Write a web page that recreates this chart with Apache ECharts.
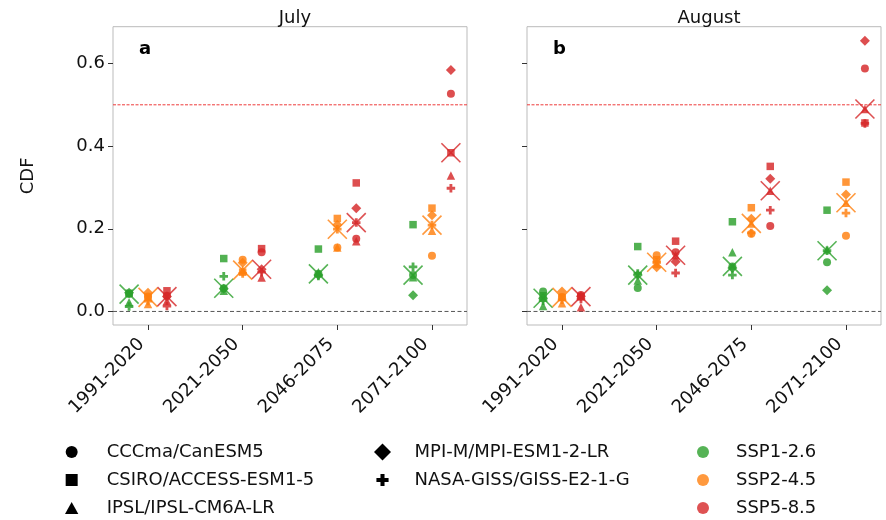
<!DOCTYPE html>
<html>
<head>
<meta charset="utf-8">
<script src="https://cdn.jsdelivr.net/npm/echarts@6/dist/echarts.min.js"></script>
<style>html,body{margin:0;padding:0;background:#fff}#c{width:886px;height:520px}</style>
</head>
<body>
<div id="c"></div>
<script>
// ---- data ----
const periods = ['1991-2020', '2021-2050', '2046-2075', '2071-2100'];
const months = ['July', 'August'];
const panelLetters = ['a', 'b'];
const models = ['CCCma/CanESM5', 'CSIRO/ACCESS-ESM1-5', 'IPSL/IPSL-CM6A-LR', 'MPI-M/MPI-ESM1-2-LR', 'NASA-GISS/GISS-E2-1-G'];
const ssps = ['SSP1-2.6', 'SSP2-4.5', 'SSP5-8.5'];
const yTicks = [0, 0.2, 0.4, 0.6];
const refLevels = [0, 0.5];

// rows: models (CanESM5, ACCESS, IPSL, MPI, GISS); columns: periods
const julySSP126 = [
  [0.042, 0.056, 0.091, 0.088],
  [0.044, 0.128, 0.151, 0.210],
  [0.022, 0.050, 0.095, 0.083],
  [0.045, 0.055, 0.088, 0.039],
  [0.012, 0.085, 0.086, 0.108]
];
const julySSP245 = [
  [0.036, 0.125, 0.155, 0.135],
  [0.034, 0.095, 0.225, 0.250],
  [0.018, 0.100, 0.155, 0.195],
  [0.045, 0.118, 0.210, 0.233],
  [0.025, 0.092, 0.199, 0.209]
];
const julySSP585 = [
  [0.038, 0.143, 0.176, 0.527],
  [0.050, 0.152, 0.311, 0.384],
  [0.025, 0.082, 0.170, 0.329],
  [0.036, 0.102, 0.250, 0.584],
  [0.013, 0.095, 0.215, 0.298]
];
const augustSSP126 = [
  [0.048, 0.057, 0.109, 0.119],
  [0.038, 0.157, 0.217, 0.245],
  [0.013, 0.075, 0.143, 0.150],
  [0.032, 0.088, 0.105, 0.051],
  [0.026, 0.092, 0.088, 0.147]
];
const augustSSP245 = [
  [0.035, 0.136, 0.188, 0.183],
  [0.034, 0.125, 0.251, 0.313],
  [0.020, 0.115, 0.213, 0.263],
  [0.048, 0.107, 0.224, 0.283],
  [0.028, 0.119, 0.190, 0.238]
];
const augustSSP585 = [
  [0.040, 0.143, 0.207, 0.588],
  [0.036, 0.170, 0.351, 0.456],
  [0.010, 0.136, 0.292, 0.490],
  [0.037, 0.120, 0.321, 0.655],
  [0.030, 0.093, 0.245, 0.455]
];
const panelData = [
  [julySSP126, julySSP245, julySSP585],
  [augustSSP126, augustSSP245, augustSSP585]
];

// ---- styles ----
const X_MIN = -0.37, X_MAX = 3.37, Y_MIN = -0.0328, Y_MAX = 0.689;
const sspColors = ['#2ca02c', '#ff7f0e', '#d62728'];
const sspOffsets = [-0.2, 0, 0.2];
const refStyles = [
  { color: '#555555', type: [4, 2.5], width: 1 },
  { color: '#ee3b3b', type: [3, 1.5], width: 1 }
];
const plusPath = 'path://M-1,-3L1,-3L1,-1L3,-1L3,1L1,1L1,3L-1,3L-1,1L-3,1L-3,-1L-1,-1Z';
const plusLegendPath = 'path://M-4.2,-4.2L-4.19,-4.2ZM4.2,4.2L4.19,4.2ZM-1,-3L1,-3L1,-1L3,-1L3,1L1,1L1,3L-1,3L-1,1L-3,1L-3,-1L-1,-1Z';
const xPath = 'path://M0,0L10,10M10,0L0,10';
const modelSymbols = ['circle', 'rect', 'triangle', 'diamond', plusPath];
const legendIcons = ['circle', 'path://M0,0L1,0L1,1L0,1Z', 'path://M0.5,0L1,0.9L0,0.9Z',
  'path://M0.5,0L1,0.5L0.5,1L0,0.5Z', plusLegendPath];
const modelSizes = [8, 7.5, 8.5, 10, 8.5];
const FONT = 'DejaVu Sans';

function median(a) {
  const s = a.slice().sort((x, y) => x - y);
  return s[Math.floor(s.length / 2)];
}

const grids = [
  { left: 113, top: 26.7, width: 354, height: 298.3 },
  { left: 527, top: 26.7, width: 354, height: 298.3 }
];

const series = [];
panelData.forEach((panel, p) => {
  // reference lines (horizontal, spanning the full axis range)
  refLevels.forEach((lv, k) => {
    series.push({
      type: 'line', name: 'ref', xAxisIndex: p, yAxisIndex: p, silent: true,
      symbol: 'none', z: 1,
      lineStyle: refStyles[k],
      data: [[X_MIN, lv], [X_MAX, lv]]
    });
  });
  panel.forEach((sspArr, s) => {
    sspArr.forEach((row, m) => {
      series.push({
        type: 'scatter', name: models[m], xAxisIndex: p, yAxisIndex: p,
        symbol: modelSymbols[m], symbolSize: modelSizes[m],
        itemStyle: { color: sspColors[s], opacity: 0.82 },
        z: 2, silent: true,
        data: row.map((v, i) => [i + sspOffsets[s], v])
      });
    });
    // median marker
    series.push({
      type: 'scatter', name: 'median', xAxisIndex: p, yAxisIndex: p,
      symbol: xPath, symbolSize: 19,
      itemStyle: { color: 'rgba(0,0,0,0)', borderColor: sspColors[s], borderWidth: 1.6 },
      z: 3, silent: true,
      data: periods.map((_, i) => [i + sspOffsets[s], median(sspArr.map(r => r[i]))])
    });
  });
});
// legend-only series for scenarios
ssps.forEach((name, s) => {
  series.push({ type: 'scatter', name: name, data: [], xAxisIndex: 0, yAxisIndex: 0,
    symbol: 'circle', itemStyle: { color: sspColors[s] } });
});

const xAxes = grids.map((g, i) => ({
  type: 'value', gridIndex: i, min: X_MIN, max: X_MAX, position: 'bottom',
  axisLine: { show: false, onZero: false },
  splitLine: { show: false },
  axisTick: { show: true, length: 5, customValues: [0, 1, 2, 3], lineStyle: { color: '#333' } },
  axisLabel: {
    show: true, customValues: [0, 1, 2, 3], rotate: 45, margin: 10,
    formatter: v => periods[Math.round(v)],
    fontFamily: FONT, fontSize: 18, color: '#111', padding: [0, 9, 0, 0]
  }
}));
const yAxes = grids.map((g, i) => ({
  type: 'value', gridIndex: i, min: Y_MIN, max: Y_MAX, position: 'left',
  name: i === 0 ? 'CDF' : '', nameLocation: 'middle', nameRotate: 90, nameGap: 76,
  nameTextStyle: { fontFamily: FONT, fontSize: 18, color: '#111' },
  axisLine: { show: false, onZero: false },
  splitLine: { show: false },
  axisTick: { show: true, length: 5, customValues: yTicks, lineStyle: { color: '#333' } },
  axisLabel: {
    show: i === 0, customValues: yTicks, margin: 8,
    formatter: v => v.toFixed(1),
    fontFamily: FONT, fontSize: 18, color: '#111'
  }
}));

const legendBase = {
  orient: 'vertical', top: 438, height: 95, itemHeight: 12, itemGap: 10, selectedMode: false,
  textStyle: { fontFamily: FONT, fontSize: 18, color: '#111' }
};
const legendModel = i => ({ name: models[i], icon: legendIcons[i], itemStyle: { color: '#000', opacity: 1 } });

const option = {
  animation: false,
  backgroundColor: '#fff',
  title: months.map((m, i) => ({
    text: m, left: grids[i].left + grids[i].width / 2, top: 4, textAlign: 'center',
    textStyle: { fontFamily: FONT, fontSize: 18, fontWeight: 'normal', color: '#111' }
  })),
  grid: grids.map(g => Object.assign({ show: true, borderColor: '#bbbbbb', borderWidth: 1, backgroundColor: 'transparent' }, g)),
  xAxis: xAxes,
  yAxis: yAxes,
  legend: [
    Object.assign({}, legendBase, { left: 60, itemWidth: 60, data: [0, 1, 2].map(legendModel) }),
    Object.assign({}, legendBase, { left: 369, itemWidth: 54, itemHeight: 17, data: [3, 4].map(legendModel) }),
    Object.assign({}, legendBase, { left: 692, itemWidth: 56, itemHeight: 12,
      data: ssps.map((n, s) => ({ name: n, icon: 'circle', itemStyle: { color: sspColors[s] } })) })
  ],
  graphic: panelLetters.map((t, i) => ({
    type: 'text', left: grids[i].left + 26, top: 40, silent: true,
    style: { text: t, fontFamily: FONT, fontSize: 18, fontWeight: 'bold', fill: '#000' }
  })),
  series: series
};

const chart = echarts.init(document.getElementById('c'), null, { renderer: 'canvas' });
chart.setOption(option);
</script>
</body>
</html>
